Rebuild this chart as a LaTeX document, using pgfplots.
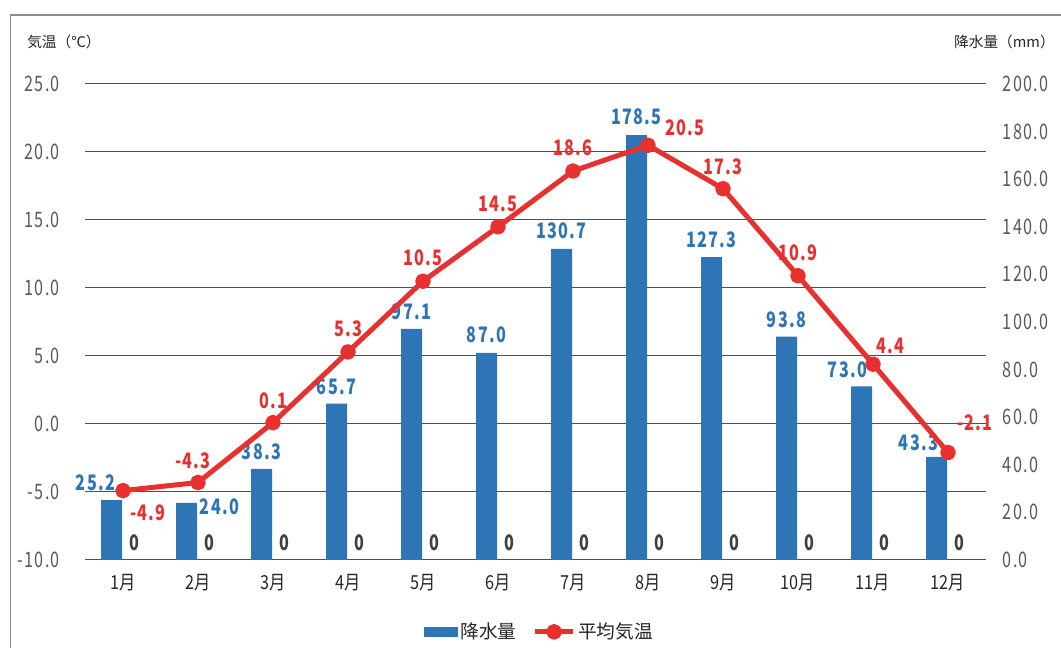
\documentclass[border=0pt]{standalone}
\usepackage{fontspec}
\usepackage{pgfplots}
\usepackage{pgfplotstable}
\pgfplotsset{compat=1.18}
\setmainfont{Noto Sans CJK JP}
\newfontfamily\cond[FakeStretch=0.76, LetterSpace=6]{Noto Sans CJK JP}
\newfontfamily\catcond[FakeStretch=0.84]{Noto Sans CJK JP}

\definecolor{barblue}{HTML}{2E75B6}
\definecolor{linered}{HTML}{E8302F}
\definecolor{gridcol}{HTML}{505050}
\definecolor{tickgray}{HTML}{595959}
\definecolor{zerogray}{HTML}{404040}
\definecolor{labeltext}{HTML}{262626}
\definecolor{framegray}{HTML}{8C8C8C}

\newcommand\numfont{\cond\fontsize{16pt}{16pt}\selectfont}
\newcommand\lblfont{\cond\bfseries\fontsize{16pt}{16pt}\selectfont}
\newcommand\catfont{\catcond\fontsize{14.5pt}{14.5pt}\selectfont}

% month index, mean temperature (C), precipitation (mm),
% label offsets in px for the temperature and precipitation labels
\pgfplotstableread{
m  T     P      tdx  tdy  pdx  pdy
0  -4.9  25.2    25  -22  -16   17
1  -4.3  24.0    -5   22   33   -4
2   0.1  38.3     0   22    0   17
3   5.3  65.7     0   23    0   17
4  10.5  97.1     0   23    0   17
5  14.5  87.0     0   23    0   18
6  18.6  130.7    0   23    0   18
7  20.5  178.5   37   17    0   18
8  17.3  127.3    0   22    0   17
9  10.9  93.8     0   23    0   17
10  4.4  73.0    17   18  -14   16
11 -2.1  43.3    27   30  -18   14
}\climate

\begin{document}
\begin{tikzpicture}
\useasboundingbox (0,0) rectangle (795.75pt,486pt);
\draw[framegray, line width=1.1pt] (7.9pt,-10pt) -- (7.9pt,474.75pt) -- (810pt,474.75pt);
\node[anchor=west, inner sep=0pt, font=\fontsize{11pt}{11pt}\selectfont, text=labeltext] at (20.25pt,454.5pt) {気温（℃）};
\node[anchor=east, inner sep=0pt, font=\fontsize{11pt}{11pt}\selectfont, text=labeltext] at (791.25pt,454.5pt) {降水量（mm）};

\pgfplotsset{panel/.style={
  scale only axis, width=675pt, height=357pt,
  at={(64.125pt,66pt)}, anchor=south west,
  xmin=-0.5, xmax=11.5, clip=false,
  axis line style={draw=none}, major tick length=0pt}}

% grid, temperature scale and month labels
\begin{axis}[panel,
  ymin=-10, ymax=25, ytick={-10,-5,...,25},
  ymajorgrids, grid style={gridcol, line width=0.75pt},
  xtick={0,...,11},
  xticklabels={1月,2月,3月,4月,5月,6月,7月,8月,9月,10月,11月,12月},
  xticklabel style={anchor=center, inner sep=0pt, yshift=-17.25pt, font=\catfont, text=labeltext},
  yticklabel style={anchor=east, inner sep=0pt, xshift=-19pt, font=\numfont, text=tickgray,
    /pgf/number format/fixed, /pgf/number format/fixed zerofill,
    /pgf/number format/precision=1, /pgf/number format/assume math mode=true}]
\end{axis}

% precipitation bars and the right-hand scale
\begin{axis}[panel,
  ymin=0, ymax=200, ytick={0,20,...,200}, xtick=\empty,
  yticklabel pos=right,
  yticklabel style={anchor=west, inner sep=0pt, xshift=12.75pt, font=\numfont, text=tickgray,
    /pgf/number format/fixed, /pgf/number format/fixed zerofill,
    /pgf/number format/precision=1, /pgf/number format/assume math mode=true}]
\addplot[ybar, bar width=15.75pt, bar shift=0pt, fill=barblue, draw=none,
  point meta=y,
  nodes near coords={\pgfmathprintnumber[fixed,fixed zerofill,precision=1,assume math mode=true]{\pgfplotspointmeta}},
  visualization depends on={\thisrow{pdx}\as\pdx},
  visualization depends on={\thisrow{pdy}\as\pdy},
  every node near coord/.append style={anchor=center, inner sep=0pt, font=\lblfont, text=barblue,
    xshift={\pdx*0.75pt}, yshift={\pdy*0.75pt}}]
  table[x expr=\thisrow{m}-0.153, y=P] {\climate};
\addplot[draw=none, nodes near coords={0},
  every node near coord/.append style={anchor=center, inner sep=0pt, font=\lblfont, text=zerogray, yshift=12.75pt}]
  table[x expr=\thisrow{m}+0.147, y expr=0] {\climate};
\end{axis}

% mean temperature line and legend
\begin{axis}[panel, ymin=-10, ymax=25, hide x axis, hide y axis,
  legend style={at={(0.505,-0.151)}, anchor=center, legend columns=2,
    draw=none, fill=none, font=\fontsize{14pt}{14pt}\selectfont, text=labeltext,
    /tikz/every even column/.append style={column sep=10pt}}]
\addlegendimage{legend image code/.code={\fill[barblue] (0pt,-3.4pt) rectangle (24.75pt,3.4pt);}}
\addlegendentry{降水量}
\addplot[linered, line width=3.75pt, line join=round,
  mark=*, mark size=4pt, mark options={fill=linered, draw=none},
  point meta=y,
  nodes near coords={\pgfmathprintnumber[fixed,fixed zerofill,precision=1,assume math mode=true]{\pgfplotspointmeta}},
  visualization depends on={\thisrow{tdx}\as\tdx},
  visualization depends on={\thisrow{tdy}\as\tdy},
  every node near coord/.append style={anchor=center, inner sep=0pt, font=\lblfont, text=linered,
    xshift={\tdx*0.75pt}, yshift={\tdy*0.75pt}},
  legend image code/.code={\draw[linered, line width=3.75pt] (0pt,0pt) -- (28.5pt,0pt);
    \fill[linered] (14.25pt,0pt) circle (4pt);}]
  table[x=m, y=T] {\climate};
\addlegendentry{平均気温}
\end{axis}
\end{tikzpicture}
\end{document}
